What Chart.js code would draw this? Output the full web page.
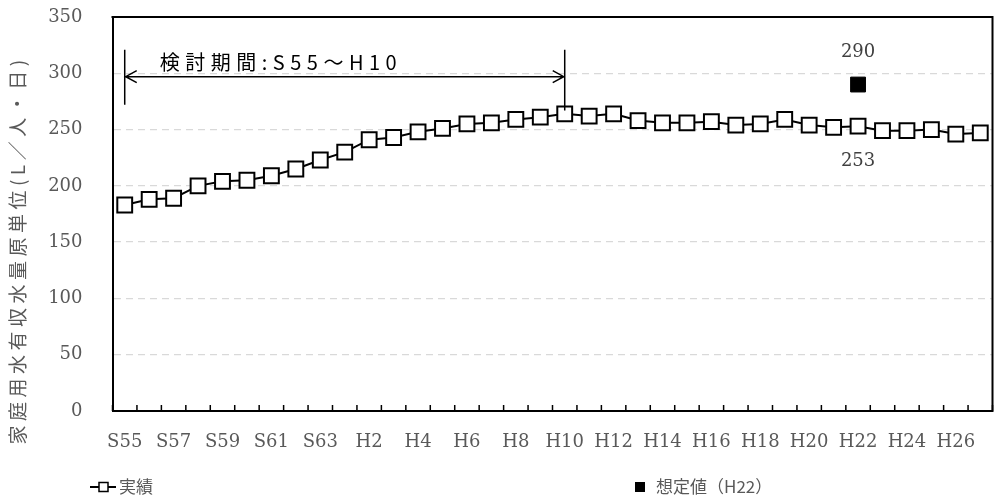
<!DOCTYPE html>
<html><head><meta charset="utf-8">
<script src="https://cdn.jsdelivr.net/npm/chart.js@4"></script>
<style>html,body{margin:0;padding:0;background:#fff}#wrap{width:1005px;height:504px}</style>
</head><body><div id="wrap"><canvas id="c" width="1005" height="504"></canvas></div>
<script>
const categories = ['S55','S56','S57','S58','S59','S60','S61','S62','S63',
  'H1','H2','H3','H4','H5','H6','H7','H8','H9','H10','H11','H12','H13','H14',
  'H15','H16','H17','H18','H19','H20','H21','H22','H23','H24','H25','H26','H27'];
const actual = [183,188,189,200,204,205,209,215,223,
  230,241,243,248,251,255,256,259,261,264,262,264,258,256,
  256,257,254,255,259,254,252,253,249,249,250,246,247];
const planned = categories.map(c => c === 'H22' ? 290 : null);
const yTicks = [0,50,100,150,200,250,300,350];
const seriesNames = ['実績','想定値（H22）'];
const yTitle = '家庭用水有収水量原単位(L／人・日)';
const periodText = '検討期間:S55～H10';
const periodStartIdx = 0, periodEndIdx = 18;
const arrowValue = 297, bracketTopValue = 321, bracketBottomLeft = 272, bracketBottomRight = 267, periodTextValue = 310;
const labelIdx = 30;

const serif = "'DejaVu Serif', serif";
const cjk = "'Noto Sans CJK JP', sans-serif";
const grey = '#595959';

const extras = {
  id: 'extras',
  afterDraw(chart) {
    const ctx = chart.ctx, a = chart.chartArea;
    const xs = chart.scales.x, ys = chart.scales.y;
    ctx.save();
    // box top/right
    ctx.strokeStyle = '#000'; ctx.lineWidth = 2;
    ctx.beginPath();
    ctx.moveTo(a.left - 1, a.top); ctx.lineTo(a.right, a.top); ctx.lineTo(a.right, a.bottom + 1);
    ctx.stroke();
    // inner tick marks on x axis at category boundaries
    ctx.lineWidth = 1.5;
    ctx.beginPath();
    for (let i = 0; i <= categories.length; i++) {
      const x = xs.getPixelForValue(i - 0.5);
      ctx.moveTo(x, a.bottom); ctx.lineTo(x, a.bottom - 6);
    }
    ctx.stroke();
    // period annotation
    const x0 = xs.getPixelForValue(periodStartIdx), x1 = xs.getPixelForValue(periodEndIdx);
    const ay = ys.getPixelForValue(arrowValue);
    ctx.lineWidth = 1.5;
    ctx.beginPath();
    ctx.moveTo(x0, ys.getPixelForValue(bracketTopValue)); ctx.lineTo(x0, ys.getPixelForValue(bracketBottomLeft));
    ctx.moveTo(x1, ys.getPixelForValue(bracketTopValue)); ctx.lineTo(x1, ys.getPixelForValue(bracketBottomRight));
    ctx.moveTo(x0, ay); ctx.lineTo(x1, ay);
    ctx.moveTo(x0 + 12, ay - 6); ctx.lineTo(x0 + 1, ay); ctx.lineTo(x0 + 12, ay + 6);
    ctx.moveTo(x1 - 12, ay - 6); ctx.lineTo(x1 - 1, ay); ctx.lineTo(x1 - 12, ay + 6);
    ctx.stroke();
    ctx.fillStyle = '#000';
    ctx.font = '20px ' + cjk;
    ctx.textAlign = 'left'; ctx.textBaseline = 'middle';
    try { ctx.letterSpacing = '5.5px'; } catch (e) {}
    ctx.fillText(periodText, x0 + 35, ys.getPixelForValue(periodTextValue));
    try { ctx.letterSpacing = '0px'; } catch (e) {}
    // data labels
    const lx = xs.getPixelForValue(labelIdx);
    ctx.font = '18px ' + serif; ctx.fillStyle = '#404040'; ctx.textAlign = 'center';
    ctx.fillText(String(planned[labelIdx]), lx, ys.getPixelForValue(planned[labelIdx]) - 32);
    ctx.fillText(String(actual[labelIdx]), lx, ys.getPixelForValue(actual[labelIdx]) + 35);
    // y title
    ctx.save();
    ctx.translate(18, 252); ctx.rotate(-Math.PI / 2);
    ctx.font = '19px ' + cjk; ctx.fillStyle = grey; ctx.textAlign = 'center'; ctx.textBaseline = 'middle';
    try { ctx.letterSpacing = '4.5px'; } catch (e) {}
    ctx.fillText(yTitle, 2, 0);
    try { ctx.letterSpacing = '0px'; } catch (e) {}
    ctx.restore();
    // legend
    const ly = 487;
    ctx.strokeStyle = '#000'; ctx.lineWidth = 2;
    ctx.beginPath(); ctx.moveTo(90, ly); ctx.lineTo(116, ly); ctx.stroke();
    ctx.fillStyle = '#fff'; ctx.lineWidth = 1.5;
    ctx.fillRect(99, ly - 4.5, 9, 9); ctx.strokeRect(99, ly - 4.5, 9, 9);
    ctx.fillStyle = '#000';
    ctx.fillRect(635, ly - 5, 10, 10);
    ctx.font = '17px ' + cjk; ctx.fillStyle = grey; ctx.textAlign = 'left'; ctx.textBaseline = 'middle';
    ctx.fillText(seriesNames[0], 119, ly);
    ctx.fillText(seriesNames[1], 656, ly);
    ctx.restore();
  }
};

new Chart(document.getElementById('c'), {
  type: 'line',
  data: {
    labels: categories,
    datasets: [
      { label: seriesNames[0], data: actual, borderColor: '#000', borderWidth: 2, tension: 0,
        pointStyle: 'rect', pointRadius: 10.5, pointBackgroundColor: '#fff', pointBorderColor: '#000', pointBorderWidth: 2 },
      { label: seriesNames[1], data: planned, showLine: false,
        pointStyle: 'rect', pointRadius: 10.5, pointBackgroundColor: '#000', pointBorderColor: '#000', pointBorderWidth: 1 }
    ]
  },
  options: {
    responsive: false, animation: false,
    layout: { padding: { top: 17, right: 3, left: 0, bottom: 0 } },
    plugins: { legend: { display: false }, tooltip: { enabled: false } },
    scales: {
      x: {
        offset: true,
        afterFit: s => { s.height = 93; },
        grid: { offset: true, drawOnChartArea: false, drawTicks: true, tickLength: 19, tickColor: 'rgba(0,0,0,0)', color: 'rgba(0,0,0,0)' },
        border: { display: true, color: '#000', width: 2 },
        ticks: { autoSkip: false, maxRotation: 0, minRotation: 0, padding: 2,
          font: { family: serif, size: 18 }, color: grey,
          callback: (v, i) => i % 2 === 0 ? categories[i] : '' }
      },
      y: {
        min: 0, max: 350,
        afterFit: s => { s.width = 112.5; },
        afterBuildTicks: s => { s.ticks = yTicks.map(v => ({ value: v })); },
        grid: { drawTicks: true, tickLength: 26, tickColor: 'rgba(0,0,0,0)', lineWidth: 1.3,
          color: c => (c.tick && (c.tick.value === 0 || c.tick.value === 350)) ? 'rgba(0,0,0,0)' : '#d9d9d9' },
        border: { display: true, color: '#000', width: 2, dash: [7, 5] },
        ticks: { padding: 4, font: { family: serif, size: 18 }, color: grey }
      }
    }
  },
  plugins: [extras]
});
</script></body></html>
